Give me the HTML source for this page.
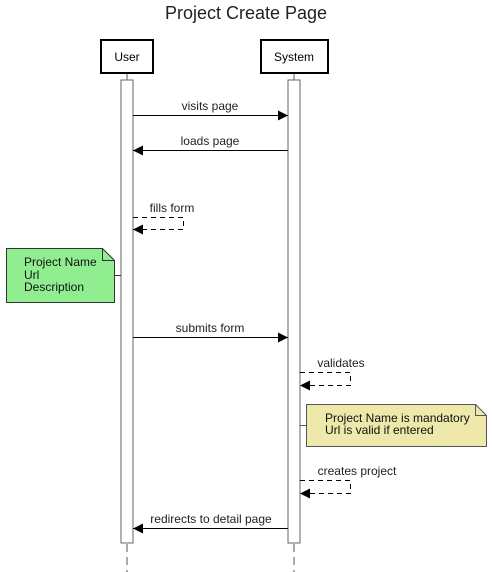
<!DOCTYPE html>
<html><head><meta charset="utf-8"><style>
html,body{margin:0;padding:0;background:#fff;}
svg{display:block;font-family:"Liberation Sans",Arial,sans-serif;}
</style></head><body>
<svg width="492" height="572" viewBox="0 0 492 572" xmlns="http://www.w3.org/2000/svg">
<defs>
<marker id="a" markerWidth="10" markerHeight="10" refX="10" refY="5" orient="auto" markerUnits="userSpaceOnUse">
<path d="M0,0 L10,5 L0,10 Z" fill="#000"/>
</marker>
</defs>
<text x="246" y="19" font-size="18" text-anchor="middle" fill="#222">Project Create Page</text>
<line x1="127" y1="73" x2="127" y2="80" stroke="#555" stroke-width="1"/>
<line x1="294" y1="73" x2="294" y2="80" stroke="#555" stroke-width="1"/>
<line x1="127" y1="544" x2="127" y2="572" stroke="#555" stroke-width="1" stroke-dasharray="8,5"/>
<line x1="294" y1="544" x2="294" y2="572" stroke="#555" stroke-width="1" stroke-dasharray="8,5"/>
<rect x="101" y="40" width="52" height="33" fill="#fff" stroke="#000" stroke-width="2"/>
<text x="127" y="61" font-size="12" text-anchor="middle">User</text>
<rect x="261" y="40" width="67" height="33" fill="#fff" stroke="#000" stroke-width="2"/>
<text x="294" y="61" font-size="12" text-anchor="middle">System</text>
<rect x="121" y="80" width="12" height="463" fill="#fff" stroke="#666" stroke-width="1"/>
<rect x="288" y="80" width="12" height="463" fill="#fff" stroke="#666" stroke-width="1"/>
<g font-size="12" fill="#222" text-anchor="middle">
<line x1="133" y1="115.5" x2="288" y2="115.5" stroke="#000" marker-end="url(#a)"/>
<text x="210" y="110">visits page</text>
<line x1="288" y1="150.5" x2="133" y2="150.5" stroke="#000" marker-end="url(#a)"/>
<text x="210" y="145">loads page</text>
<path d="M133,217.5 H183.5 V229.5 H133" fill="none" stroke="#000" stroke-dasharray="5,4" marker-end="url(#a)"/>
<text x="172" y="212">fills form</text>
<line x1="133" y1="337.5" x2="288" y2="337.5" stroke="#000" marker-end="url(#a)"/>
<text x="210" y="332">submits form</text>
<path d="M300,372.5 H350.5 V385.5 H300" fill="none" stroke="#000" stroke-dasharray="5,4" marker-end="url(#a)"/>
<text x="341" y="367">validates</text>
<path d="M300,480.5 H350.5 V493.5 H300" fill="none" stroke="#000" stroke-dasharray="5,4" marker-end="url(#a)"/>
<text x="357" y="475">creates project</text>
<line x1="288" y1="528.5" x2="133" y2="528.5" stroke="#000" marker-end="url(#a)"/>
<text x="211" y="523">redirects to detail page</text>
</g>
<line x1="114" y1="275.5" x2="121" y2="275.5" stroke="#333"/>
<path d="M6.5,248.5 H102.5 L114.5,260.5 V302.5 H6.5 Z" fill="#90ee90" stroke="#333"/>
<path d="M102.5,248.5 V260.5 H114.5" fill="none" stroke="#333"/>
<g font-size="12" fill="#111">
<text x="24" y="266">Project Name</text>
<text x="24" y="279">Url</text>
<text x="24" y="291">Description</text>
</g>
<line x1="300" y1="425.5" x2="306" y2="425.5" stroke="#555"/>
<path d="M306.5,404.5 H475.5 L486.5,415.5 V446.5 H306.5 Z" fill="#eee8aa" stroke="#555"/>
<path d="M475.5,404.5 V415.5 H486.5" fill="none" stroke="#555"/>
<g font-size="12" fill="#111">
<text x="325" y="422">Project Name is mandatory</text>
<text x="325" y="434">Url is valid if entered</text>
</g>
</svg>
</body></html>
